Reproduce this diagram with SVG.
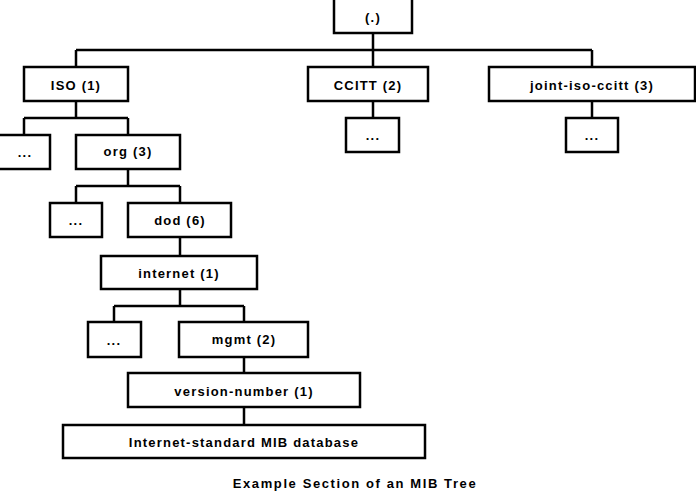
<svg xmlns="http://www.w3.org/2000/svg" width="696" height="492" viewBox="0 0 696 492">
<style>
rect{fill:#fff;stroke:#000;stroke-width:2.5}
.c path{fill:none;stroke:#000;stroke-width:2.5}
text{font-family:"Liberation Sans",Arial,sans-serif;font-weight:bold;font-size:13px;letter-spacing:1.2px;text-anchor:middle;fill:#000}
</style>
<rect x="0" y="0" width="696" height="492" style="stroke:none"/>
<g class="c">
<path d="M373 33V50M76 50H592M76 50V67M373 50V67M592 50V67"/>
<path d="M373 101V118M592 101V118"/>
<path d="M76 101V118M24 118H128M24 118V135M128 118V135"/>
<path d="M128 169V186M76 186H180M76 186V203M180 186V203"/>
<path d="M180 237V256"/>
<path d="M180 289V306M114 306H244M114 306V322M244 306V322"/>
<path d="M244 357V373M244 407V425"/>
</g>
<g id="root"><rect x="334" y="-2" width="78" height="35"/><text x="373" y="22">(.)</text></g>
<g id="iso"><rect x="24" y="67" width="104" height="34"/><text x="76" y="90">ISO (1)</text></g>
<g id="ccitt"><rect x="308" y="67" width="120" height="34"/><text x="368" y="90">CCITT (2)</text></g>
<g id="joint"><rect x="489" y="67" width="206" height="34"/><text x="592" y="90">joint-iso-ccitt (3)</text></g>
<g id="ccitt-more"><rect x="346" y="118" width="53" height="34"/><text x="373" y="140">...</text></g>
<g id="joint-more"><rect x="566" y="118" width="52" height="34"/><text x="592" y="140">...</text></g>
<g id="iso-more"><rect x="-2" y="135" width="52" height="34"/><text x="25" y="157">...</text></g>
<g id="org"><rect x="76" y="135" width="104" height="34"/><text x="128" y="156">org (3)</text></g>
<g id="org-more"><rect x="50" y="203" width="52" height="34"/><text x="76" y="225">...</text></g>
<g id="dod"><rect x="128" y="203" width="103" height="34"/><text x="180" y="225">dod (6)</text></g>
<g id="internet"><rect x="101" y="256" width="156" height="33"/><text x="179" y="278">internet (1)</text></g>
<g id="internet-more"><rect x="88" y="322" width="53" height="35"/><text x="114" y="345">...</text></g>
<g id="mgmt"><rect x="179" y="322" width="129" height="35"/><text x="244" y="344">mgmt (2)</text></g>
<g id="version"><rect x="128" y="373" width="232" height="34"/><text x="244" y="396">version-number (1)</text></g>
<g id="mib"><rect x="63" y="425" width="362" height="33"/><text x="244" y="447">Internet-standard MIB database</text></g>
<text x="355" y="488" style="letter-spacing:1.6px">Example Section of an MIB Tree</text>
</svg>
